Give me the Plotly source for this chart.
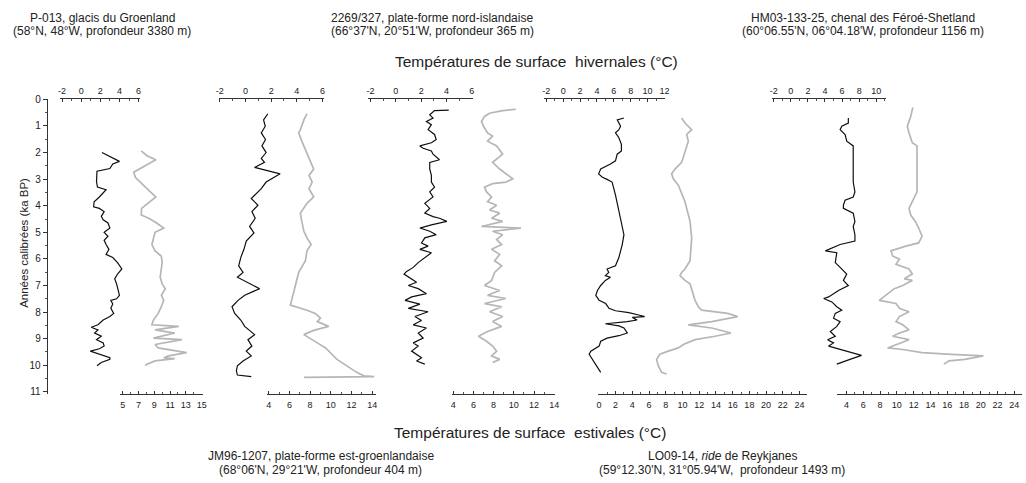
import plotly.graph_objects as go

# ---------------- data (ka BP vs temperature) ----------------
P013_winter_ka = [2.0,2.19,2.33,2.43,2.6,2.7,3.1,3.3,3.4,3.67,3.85,4.04,4.1,4.22,4.4,4.53,4.65,4.84,5.0,5.15,5.3,5.46,5.64,5.83,5.95,6.14,6.38,6.57,6.75,6.94,7.12,7.37,7.5,7.56,7.7,7.86,8.05,8.17,8.3,8.48,8.57,8.67,8.79,8.91,9.04,9.16,9.28,9.38,9.47,9.56,9.65,9.72,9.78,9.9,10.02]
P013_winter_t = [2.17,3.3,4.0,3.3,3.0,1.65,1.6,1.7,2.6,1.9,1.35,1.3,1.9,2.4,2.1,2.3,2.8,3.0,2.4,2.8,2.4,2.6,2.9,2.6,3.3,3.8,4.25,3.8,3.5,3.7,3.8,4.0,3.7,3.1,3.3,3.1,3.4,3.0,2.3,1.75,1.05,1.75,1.4,2.1,1.6,2.3,2.4,1.9,0.95,1.75,2.3,3.0,3.0,2.1,1.65]
P013_summer_ka = [1.94,2.12,2.27,2.43,2.56,2.74,2.93,3.17,3.42,3.67,3.85,4.1,4.35,4.47,4.65,4.84,5.0,5.2,5.46,5.7,5.9,6.14,6.38,6.69,6.94,7.12,7.37,7.56,7.8,8.05,8.3,8.48,8.54,8.67,8.79,8.98,9.04,9.22,9.35,9.53,9.65,9.72,9.75,9.84,9.96,10.02]
P013_summer_t = [7.35,8.07,9.2,8.3,7.4,6.4,6.6,7.4,8.3,9.2,8.5,7.4,7.35,8.3,9.3,10.2,9.1,8.9,8.7,9.1,9.9,10.0,9.9,9.75,10.0,10.4,9.9,10.2,9.9,9.5,8.9,8.7,12.1,9.1,11.6,8.9,12.5,9.1,9.5,13.1,10.8,10.2,11.6,9.1,8.07,7.85]

JM96_winter_ka = [0.54,0.77,1.01,1.26,1.51,1.75,2.0,2.22,2.37,2.56,2.8,3.11,3.36,3.73,3.98,4.22,4.47,4.78,5.02,5.33,5.64,5.95,6.26,6.51,6.69,7.12,7.37,7.56,7.8,8.05,8.3,8.54,8.85,9.04,9.28,9.47,9.65,9.84,10.02,10.21,10.37,10.43]
JM96_winter_t = [1.74,1.41,1.54,1.23,1.56,1.28,1.61,1.23,1.48,0.71,2.7,1.61,1.23,0.45,0.97,0.5,0.76,0.32,0.66,0.06,-0.12,-0.37,-0.53,-0.19,-0.63,1.1,-0.06,-0.58,-1.05,-0.84,-0.37,-0.06,0.71,0.19,0.5,0.06,0.45,-0.19,-0.63,-0.71,-0.63,0.45]
JM96_summer_ka = [0.54,0.77,1.14,1.26,1.57,1.88,2.12,2.43,2.62,2.86,3.11,3.36,3.67,3.91,4.28,4.59,4.96,5.21,5.46,5.7,6.07,6.51,6.81,7.31,7.74,7.93,8.05,8.23,8.36,8.54,8.69,8.85,8.98,9.16,9.35,9.59,9.78,9.96,10.15,10.27,10.4,10.43,10.46]
JM96_summer_t = [7.7,7.4,7.06,6.9,7.2,7.55,7.8,8.2,8.35,7.9,8.2,7.9,8.35,7.7,7.06,7.2,7.4,7.7,8.1,7.7,7.55,6.9,6.7,6.4,6.1,7.7,8.5,9.0,8.7,9.8,8.35,7.4,8.0,8.7,9.5,10.1,10.6,11.3,12.1,12.5,13.2,14.2,7.4]

S2269_winter_ka = [0.4,0.42,0.58,0.7,0.83,0.95,1.14,1.32,1.51,1.63,1.75,1.84,1.94,2.06,2.27,2.37,2.62,2.86,3.11,3.3,3.48,3.67,3.91,4.1,4.28,4.41,4.47,4.59,4.72,4.84,4.96,5.09,5.21,5.4,5.52,5.64,5.77,5.95,6.14,6.32,6.47,6.57,6.75,6.88,7.0,7.12,7.31,7.43,7.56,7.7,7.86,7.99,8.17,8.32,8.48,8.6,8.79,8.98,9.16,9.28,9.47,9.72,9.84,9.96]
S2269_winter_t = [4.18,3.06,2.68,2.94,2.42,2.81,2.55,3.06,3.19,2.81,1.9,2.16,2.81,2.94,3.45,2.68,2.68,2.81,2.81,3.06,2.68,2.94,2.29,2.68,2.29,2.94,3.45,4.03,2.81,1.9,2.68,3.19,2.29,2.03,2.55,1.9,2.81,2.29,1.77,1.38,0.86,0.65,1.25,1.64,0.99,1.77,2.42,1.25,0.73,1.9,0.99,2.55,1.51,2.03,1.38,2.42,1.77,2.16,1.38,1.77,1.25,2.03,1.64,2.29]
S2269_summer_ka = [0.37,0.42,0.52,0.64,0.83,1.01,1.26,1.38,1.57,1.75,2.06,2.37,2.62,2.86,2.99,3.11,3.17,3.3,3.48,3.67,3.85,3.98,4.16,4.28,4.47,4.59,4.78,4.84,4.96,5.09,5.27,5.46,5.64,5.83,6.07,6.26,6.51,6.81,7.0,7.19,7.37,7.49,7.68,7.8,7.99,8.17,8.36,8.54,8.73,8.91,9.1,9.28,9.47,9.65,9.78,9.9]
S2269_summer_t = [10.2,8.9,7.6,7.1,6.8,7.0,7.4,7.9,7.4,8.3,8.9,7.9,8.6,9.4,9.9,9.2,7.9,7.1,7.3,7.8,7.4,8.3,7.6,8.6,7.8,8.9,6.8,10.7,7.9,8.9,8.3,8.8,7.8,8.6,8.1,8.8,8.1,7.8,7.1,8.6,7.4,9.2,7.1,8.8,7.6,8.9,7.9,8.8,7.4,6.5,7.3,7.9,8.3,7.8,8.6,7.9]

LO09_winter_ka = [0.7,0.77,1.01,1.14,1.26,1.44,1.69,1.94,2.06,2.31,2.43,2.62,2.8,2.93,3.01,3.11,3.6,4.22,5.09,5.46,5.95,6.26,6.38,6.51,6.63,6.69,6.81,7.0,7.19,7.37,7.56,7.68,7.86,7.95,8.02,8.11,8.17,8.2,8.3,8.36,8.44,8.52,8.6,8.79,8.89,8.98,9.1,9.28,9.47,9.59,9.78,10.02,10.27]
LO09_winter_t = [7.19,6.41,6.8,6.6,6.2,6.6,6.9,6.9,6.4,6.2,5.6,4.45,4.2,4.65,5.2,5.8,6.2,6.6,7.2,7.0,6.6,6.2,5.2,5.4,5.0,5.6,5.0,4.45,4.06,3.87,4.26,5.04,5.43,6.2,7.78,8.95,9.65,8.2,8.75,7.6,5.0,6.6,7.2,7.6,6.6,5.2,4.45,4.26,3.28,3.08,3.47,3.87,4.45]
LO09_summer_ka = [0.7,0.89,1.14,1.32,1.57,2.0,2.37,2.62,2.8,2.99,3.23,3.85,4.59,5.21,6.07,6.38,6.51,6.63,6.81,6.94,7.31,7.56,7.8,7.93,8.05,8.17,8.36,8.48,8.6,8.79,8.91,9.04,9.22,9.35,9.47,9.59,9.78,10.02,10.27,10.33]
LO09_summer_t = [9.9,10.3,11.1,10.5,10.7,10.3,9.9,9.1,8.7,8.9,9.5,10.3,10.9,11.1,10.9,10.3,9.9,9.7,10.3,10.9,11.3,11.5,11.9,12.3,15.4,16.6,13.5,10.7,13.5,15.8,13.9,11.5,10.1,9.5,8.3,7.3,6.9,7.1,7.5,8.1]

HM03_winter_ka = [0.7,0.89,1.01,1.14,1.32,1.57,1.75,2.37,3.11,3.48,3.67,3.79,3.98,4.1,4.28,4.59,4.78,5.09,5.33,5.46,5.7,5.77,6.14,6.32,6.57,6.81,7.0,7.19,7.43,7.49,7.62,7.8,7.93,8.05,8.23,8.36,8.54,8.73,8.91,9.04,9.16,9.28,9.47,9.63,9.78,9.96]
HM03_winter_t = [6.73,6.73,5.96,5.77,6.35,6.54,7.3,7.3,7.3,7.5,7.3,6.35,6.15,6.15,7.3,7.5,7.3,7.5,7.5,5.77,4.04,5.38,5.2,5.77,6.54,6.15,6.73,5.58,4.42,3.85,4.8,5.38,5.96,5.2,5.0,5.77,5.38,4.62,5.2,4.3,5.0,4.42,6.54,8.27,6.92,5.38]
HM03_summer_ka = [0.3,0.64,1.01,1.26,1.63,1.75,2.49,3.48,3.85,4.1,4.35,4.59,4.84,5.15,5.4,5.52,5.7,5.89,6.01,6.2,6.38,6.57,6.75,6.81,7.0,7.12,7.56,7.68,7.86,7.99,8.17,8.36,8.48,8.67,8.79,8.91,9.04,9.22,9.35,9.41,9.53,9.59,9.65,9.78,9.84,9.96]
HM03_summer_t = [11.9,11.65,11.25,11.45,11.84,12.4,12.4,12.4,11.84,11.45,11.65,12.2,12.6,13.0,12.6,11.06,9.3,9.5,10.3,9.9,11.45,11.84,10.9,11.84,10.7,9.7,7.9,9.9,10.3,11.45,10.3,9.9,10.7,11.45,10.3,9.5,11.45,9.9,8.9,10.7,13.0,16.5,20.3,18.1,16.2,15.6]

age_ticks = list(range(0, 12))
winter_ticks = [-2, 0, 2, 4, 6, 8, 10, 12]
summer_ticks = [0, 2, 4, 5, 6, 7, 8, 9, 10, 11, 12, 13, 14, 15, 16, 18, 20, 22, 24]
y_title = "Années calibrées (ka BP)"
winter_title = "Températures de surface  hivernales (°C)"
summer_title = "Températures de surface  estivales (°C)"
top_headers = [
    ("P-013, glacis du Groenland", "(58°N, 48°W, profondeur 3380 m)"),
    ("2269/327, plate-forme nord-islandaise", "(66°37'N, 20°51'W, profondeur 365 m)"),
    ("HM03-133-25, chenal des Féroé-Shetland", "(60°06.55'N, 06°04.18'W, profondeur 1156 m)"),
]
bottom_headers = [
    ("JM96-1207, plate-forme est-groenlandaise", "(68°06'N, 29°21'W, profondeur 404 m)"),
    ("LO09-14, <i>ride</i> de Reykjanes", "(59°12.30'N, 31°05.94'W,  profondeur 1493 m)"),
]

panels = [
    (P013_winter_ka, P013_winter_t, P013_summer_ka, P013_summer_t),
    (JM96_winter_ka, JM96_winter_t, JM96_summer_ka, JM96_summer_t),
    (S2269_winter_ka, S2269_winter_t, S2269_summer_ka, S2269_summer_t),
    (LO09_winter_ka, LO09_winter_t, LO09_summer_ka, LO09_summer_t),
    (HM03_winter_ka, HM03_winter_t, HM03_summer_ka, HM03_summer_t),
]

# ---------------- layout geometry (pixels) ----------------
W, H = 1026, 483
Y_TOP, Y_BOT = 96, 396
FONT = "Liberation Sans, Arial, sans-serif"

# (value a, px a, value b, px b, line start px, line end px, tick step)
top_axes = [
    (-2, 59.5, 6, 136.5, 57, 138, 2),
    (-2, 218.3, 6, 321.7, 217, 323, 2),
    (-2, 370, 6, 472, 368, 473, 2),
    (-2, 547, 12, 666, 545, 667, 2),
    (-2, 776, 10, 879.3, 774, 889, 2),
]
bot_axes = [
    (5, 120.5, 15, 200, 118, 201, 2),
    (4, 267.5, 14, 371.7, 266, 376, 2),
    (4, 453.3, 14, 555, 452, 556, 2),
    (0, 600, 24, 802, 599, 810, 2),
    (4, 849.3, 24, 1018.3, 840, 1026, 2),
]


def axis_range(va, pa, vb, pb, p0, p1):
    s = (pb - pa) / (vb - va)
    return [va + (p0 - pa) / s, va + (p1 - pa) / s]


def pick_ticks(ticks, lo, hi, first, step):
    return [t for t in ticks if lo <= t <= hi and (t - first) % step == 0]


fig = go.Figure()
layout = dict(
    width=W, height=H, margin=dict(l=0, r=0, t=0, b=0),
    paper_bgcolor="white", plot_bgcolor="rgba(0,0,0,0)",
    showlegend=False, font=dict(family=FONT, color="#222"),
)

tick_font = dict(family=FONT, size=9, color="#222")

for i, (wk, wt, sk, st) in enumerate(panels):
    nt = 2 * i + 1
    nb = 2 * i + 2
    xt = "x" if nt == 1 else f"x{nt}"
    xb = f"x{nb}"
    fig.add_trace(go.Scatter(x=st, y=sk, xaxis=xb, yaxis="y", mode="lines",
                             line=dict(color="rgb(182,182,182)", width=1.7), hoverinfo="skip"))
    fig.add_trace(go.Scatter(x=wt, y=wk, xaxis=xt, yaxis="y", mode="lines",
                             line=dict(color="rgb(15,15,15)", width=1.2), hoverinfo="skip"))
    va, pa, vb, pb, p0, p1, stp = top_axes[i]
    r = axis_range(va, pa, vb, pb, p0, p1)
    tv = pick_ticks(winter_ticks, r[0], r[1], va, stp)
    layout["xaxis" if nt == 1 else f"xaxis{nt}"] = dict(
        domain=[p0 / W, p1 / W], range=r,
        anchor="y", side="top", showgrid=False, zeroline=False,
        showline=True, linecolor="#333", linewidth=1,
        tickvals=tv, ticktext=[str(t) for t in tv],
        ticks="inside", ticklen=3, tickcolor="#333",
        minor=dict(dtick=1, ticks="inside", ticklen=2, tickcolor="#555"),
        tickfont=tick_font, ticklabelstandoff=1,
    )
    va, pa, vb, pb, p0, p1, stp = bot_axes[i]
    r = axis_range(va, pa, vb, pb, p0, p1)
    tv = pick_ticks(summer_ticks, r[0], r[1], va, stp)
    layout[f"xaxis{nb}"] = dict(
        domain=[p0 / W, p1 / W], range=r,
        anchor="y", side="bottom", showgrid=False, zeroline=False,
        showline=True, linecolor="#333", linewidth=1,
        tickvals=tv, ticktext=[str(t) for t in tv],
        ticks="inside", ticklen=3, tickcolor="#333",
        minor=dict(dtick=1, ticks="inside", ticklen=2, tickcolor="#555"),
        tickfont=tick_font, ticklabelstandoff=2,
    )

layout["yaxis"] = dict(
    domain=[1 - Y_BOT / H, 1 - Y_TOP / H], range=[11.1, 0],
    anchor="free", position=44 / W, showgrid=False, zeroline=False,
    showline=True, linecolor="#333", linewidth=1,
    tickvals=age_ticks, ticks="outside", ticklen=4, tickcolor="#333",
    minor=dict(dtick=0.5, ticks="outside", ticklen=2, tickcolor="#555"),
    tickfont=dict(family=FONT, size=10, color="#222"),
)


def px_x(p):
    return p / W


def px_y(p):
    return 1 - p / H


def text_ann(txt, cx, cy, size, angle=0):
    return dict(text=txt, x=px_x(cx), y=px_y(cy), xref="paper", yref="paper",
                showarrow=False, textangle=angle,
                font=dict(family=FONT, size=size, color="#222"),
                xanchor="center", yanchor="middle")


ann = []
for (l1, l2), cx in zip(top_headers, [100, 432, 866]):
    ann.append(text_ann(l1, cx, 13, 12))
    ann.append(text_ann(l2, cx, 26.5, 12))
for (l1, l2), cx in zip(bottom_headers, [320, 724]):
    ann.append(text_ann(l1, cx, 459, 12))
    ann.append(text_ann(l2, cx, 472.5, 12))
ann.append(text_ann(winter_title, 537, 57, 15.5))
ann.append(text_ann(summer_title, 531, 435, 15.5))
ann.append(text_ann(y_title, 21, 242, 11.5, -90))
layout["annotations"] = ann

fig.update_layout(**layout)
fig.write_html("out.html")
